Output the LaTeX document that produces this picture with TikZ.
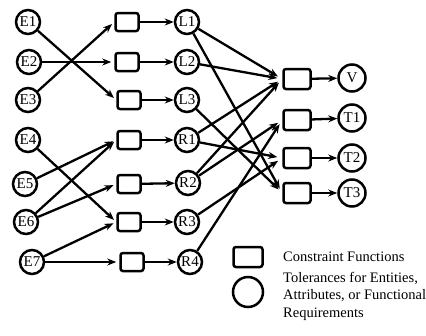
\documentclass[tikz,border=0pt]{standalone}
\usepackage{fontspec}
\setmainfont{Liberation Serif}
\usetikzlibrary{arrows.meta}
\begin{document}
\begin{tikzpicture}[x=1pt,y=-1pt,
  ent/.style={circle,draw,line width=2.5pt,minimum size=24pt,inner sep=0pt,font=\fontsize{15}{15}\selectfont},
  big/.style={ent,minimum size=27pt},
  cbox/.style={rectangle,rounded corners=2.5pt,draw,line width=2.5pt,minimum width=23pt,minimum height=18pt,inner sep=0pt},
  rbox/.style={cbox,minimum width=27pt,minimum height=20pt},
  arr/.style={line width=2.3pt,-{Stealth[length=9pt,width=7pt]},shorten >=3pt},
  legtext/.style={anchor=west,font=\fontsize{14.5}{17.5}\selectfont,align=left,inner sep=0pt}
  ]
\useasboundingbox (0,0) rectangle (426,335);
% left entities
\node[ent] (E1) at (28,22) {E1};
\node[ent] (E2) at (29,62) {E2};
\node[ent] (E3) at (28,100) {E3};
\node[ent] (E4) at (28,140) {E4};
\node[ent] (E5) at (25,184) {E5};
\node[ent] (E6) at (26,222) {E6};
\node[ent] (E7) at (32,262) {E7};
% first boxes
\node[cbox] (b1) at (127,22) {};
\node[cbox] (b2) at (127,62) {};
\node[cbox] (b3) at (129,100) {};
\node[cbox] (b4) at (129,140) {};
\node[cbox] (b5) at (129,184) {};
\node[cbox] (b6) at (129,222) {};
\node[cbox] (b7) at (132,262) {};
% L / R
\node[ent] (L1) at (187,22) {L1};
\node[ent] (L2) at (187,62) {L2};
\node[ent] (L3) at (187,100) {L3};
\node[ent] (R1) at (187,140) {R1};
\node[ent] (R2) at (188,183) {R2};
\node[ent] (R3) at (187,222) {R3};
\node[ent] (R4) at (190,262) {R4};
% right boxes
\node[rbox] (vb) at (297,79) {};
\node[rbox] (t1b) at (297,120) {};
\node[rbox] (t2b) at (297,158) {};
\node[rbox] (t3b) at (297,193) {};
% right tolerances
\node[big] (V) at (352,78) {V};
\node[big] (T1) at (352,118) {T1};
\node[big] (T2) at (352,158) {T2};
\node[big] (T3) at (352,193) {T3};
% entity -> box
\draw[arr] (E1) -- (b3.west);
\draw[arr] (E2) -- (b2.west);
\draw[arr] (E3) -- (b1.west);
\draw[arr] (E4) -- (b6.west);
\draw[arr] (E5) -- (b4.west);
\draw[arr] (E6) -- (b4.west);
\draw[arr] (E6) -- (b5.west);
\draw[arr] (E7) -- (b6.west);
\draw[arr] (E7) -- (b7.west);
% box -> L/R
\draw[arr,shorten >=0pt] (b1) -- (L1);
\draw[arr,shorten >=0pt] (b2) -- (L2);
\draw[arr,shorten >=0pt] (b3) -- (L3);
\draw[arr,shorten >=0pt] (b4) -- (R1);
\draw[arr,shorten >=0pt] (b5) -- (R2);
\draw[arr,shorten >=0pt] (b6) -- (R3);
\draw[arr,shorten >=0pt] (b7) -- (R4);
% L/R -> right boxes
\draw[arr,shorten >=5pt] (L1) -- (vb.west);
\draw[arr,shorten >=5pt] (L2) -- (vb.west);
\draw[arr,shorten >=5pt] (R1) -- (vb.west);
\draw[arr,shorten >=5pt] (R2) -- (vb.west);
\draw[arr,shorten >=5pt] (R2) -- (t1b.west);
\draw[arr,shorten >=5pt] (R4) -- (t1b.west);
\draw[arr,shorten >=5pt] (R1) -- (t2b.west);
\draw[arr,shorten >=5pt] (R3) -- (t2b.west);
\draw[arr,shorten >=5pt] (L1) -- (t3b.west);
\draw[arr,shorten >=5pt] (L3) -- (t3b.west);
% right boxes -> tolerances
\draw[arr,shorten >=0pt] (vb) -- (V);
\draw[arr,shorten >=0pt] (t1b) -- (T1);
\draw[arr,shorten >=0pt] (t2b) -- (T2);
\draw[arr,shorten >=0pt] (t3b) -- (T3);
% legend
\node[cbox,minimum width=29pt,minimum height=20pt] (lb) at (248,257) {};
\node[circle,draw,line width=2.5pt,minimum size=30pt,inner sep=0pt] (lc) at (248,292) {};
\node[legtext] (lt1) at (283,257) {Constraint Functions};
\node[legtext,anchor=north west] (lt2) at (283,272) {Tolerances for Entities,\\Attributes, or Functional\\Requirements};
\end{tikzpicture}
\end{document}
